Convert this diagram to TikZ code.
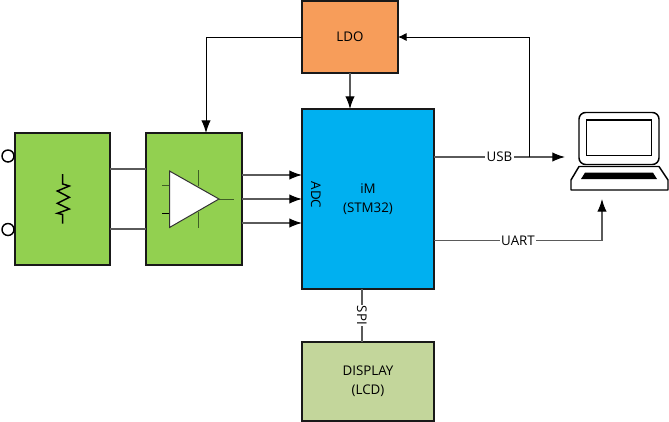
\documentclass[tikz,border=0pt]{standalone}
\usepackage{fontspec}
\setmainfont{Open Sans}
\usetikzlibrary{arrows.meta,calc}
\definecolor{boxgreen}{HTML}{92D050}
\definecolor{boxorange}{HTML}{F79D5A}
\definecolor{boxblue}{HTML}{00B0F0}
\definecolor{boxlcd}{HTML}{C3D69B}
\definecolor{wiregray}{HTML}{5A5A5A}
\definecolor{pingreen}{HTML}{3F5F25}
\tikzset{
  box/.style={draw=black!90,line width=1.3pt,inner sep=0pt,outer sep=0pt,font=\fontsize{10}{14.5}\selectfont,align=center,text=black},
  wire/.style={draw=wiregray,line width=0.8pt},
  thinwire/.style={draw=black,line width=0.75pt},
  bigtip/.style={-{Latex[length=9.5pt,width=7pt,black]}},
  smalltip/.style={-{Latex[length=6.5pt,width=6.2pt,black]}},
  lbl/.style={fill=white,inner sep=1pt,font=\fontsize{10}{12}\selectfont,text=black},
  term/.style={circle,draw=black,fill=white,line width=1.1pt,minimum size=9pt,inner sep=0pt,outer sep=0pt},
}
\begin{document}
\begin{tikzpicture}[x=0.75pt,y=-0.75pt]
\useasboundingbox (0,0) rectangle (669,422);
% boxes
\node[box,fill=boxgreen,minimum width=71.25pt,minimum height=99pt] (sensor) at (62.5,199) {};
\node[box,fill=boxgreen,minimum width=72pt,minimum height=99pt] (ampbox) at (194,199) {};
\node[box,fill=boxorange,minimum width=72pt,minimum height=54pt] (ldo) at (350,37) {LDO};
\node[box,fill=boxblue,minimum width=99pt,minimum height=135pt] (mcu) at (368,199) {iM\\(STM32)};
\node[box,fill=boxlcd,minimum width=99pt,minimum height=59.25pt] (lcd) at (368,381.5) {DISPLAY\\(LCD)};
\node[font=\fontsize{10}{12}\selectfont,rotate=-90,text=black,inner sep=0pt] (adc) at (316,195) {ADC};
% terminals
\node[term] (t1) at (8,156) {};
\node[term] (t2) at (8,229.5) {};
% resistor
\draw[line width=1.1pt,black,line join=miter] (62.7,174) -- (62.7,184) -- (69.3,186) -- (57.3,191) -- (69.3,197.3) -- (57.3,203.3) -- (69.3,209) -- (57.3,213.3) -- (62.7,214.5) -- (62.7,223.5);
% amplifier
\coordinate (ampA) at (169.5,171);
\coordinate (ampB) at (169.5,227.5);
\coordinate (ampC) at (219,199);
\draw[line width=0.75pt,pingreen] (198,170) -- (198,186) (198,212) -- (198,228) (219,199) -- (234,199) (162,185) -- (169.5,185);
\draw[line width=0.6pt,black] (162,213.5) -- (169.5,213.5);
\draw[line width=0.75pt,draw=black!80,fill=white,line join=miter] (ampA) -- (ampB) -- (ampC) -- cycle;
% sensor to amp
\draw[wire] (sensor.east |- 0,169) -- (ampbox.west |- 0,169);
\draw[wire] (sensor.east |- 0,229) -- (ampbox.west |- 0,229);
% amp to ADC
\draw[wire,bigtip] (ampbox.east |- 0,175) -- (mcu.west |- 0,175);
\draw[wire,bigtip] (ampbox.east |- 0,199) -- (mcu.west |- 0,199);
\draw[wire,bigtip] (ampbox.east |- 0,223) -- (mcu.west |- 0,223);
% LDO
\coordinate (corner) at (206,37);
\draw[thinwire,bigtip] (ldo.west) -- (corner) -- (corner |- ampbox.north);
\draw[wire,bigtip] (ldo.south) -- (mcu.north -| ldo.south);
% USB / UART / SPI
\coordinate (usbend) at (565,157);
\coordinate (junction) at (529,157);
\coordinate (uartend) at (602,199);
\draw[wire,bigtip] (mcu.east |- usbend) -- node[lbl,pos=0.5,xshift=0pt] (usb) {USB} (usbend);
\draw[thinwire,smalltip] (junction) -- (junction |- ldo.east) -- (ldo.east);
\coordinate (uartcorner) at (602,240.5);
\draw[wire,bigtip] (mcu.east |- uartcorner) -- node[lbl,pos=0.5,xshift=0pt] (uart) {UART} (uartcorner) -- (uartend);
\draw[wire] (362,289) -- node[lbl,rotate=-90] (spi) {SPI} (362,342);
% laptop
\draw[line width=1.1pt,black,rounded corners=5pt] (579,164.5) -- (579,112.5) -- (659,112.5) -- (659,164.5) -- cycle;
\draw[line width=1.1pt,black] (586.5,120) rectangle (651.5,155.5);
\draw[line width=1.1pt,black,line join=round] (579,166.5) -- (659,166.5) -- (668,180) -- (668,190) -- (571,190) -- (571,180) -- cycle;
\fill[black] (585,172.7) -- (653,172.7) -- (657,179) -- (581,179) -- cycle;
\end{tikzpicture}
\end{document}
